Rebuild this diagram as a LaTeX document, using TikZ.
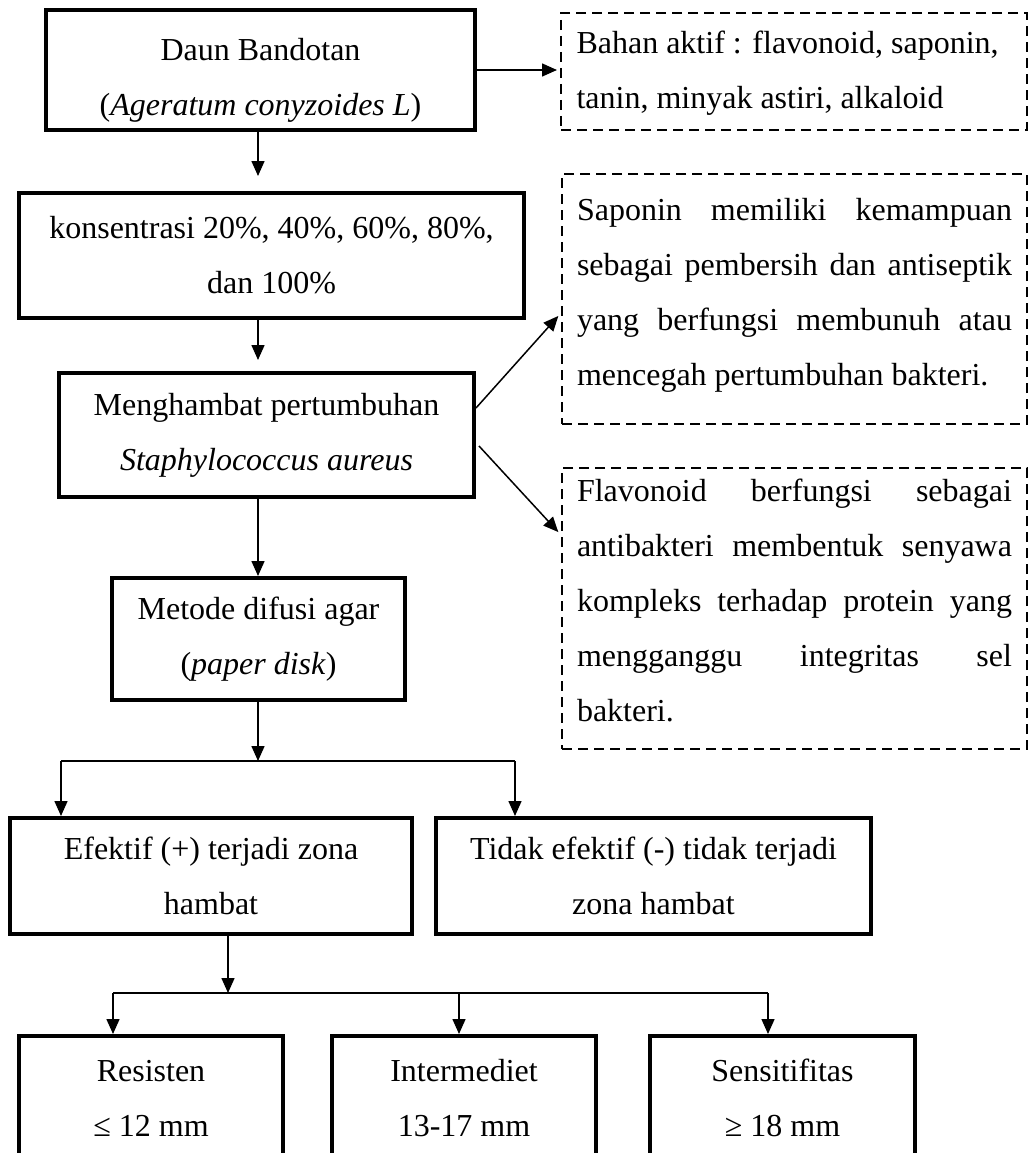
\documentclass[tikz,border=0pt]{standalone}
\usepackage{fontspec}
\setmainfont{Liberation Serif}
\usetikzlibrary{arrows.meta,calc}
\newcommand\myfs{\fontsize{32pt}{55pt}\selectfont}
\newcommand\jline[1]{\makebox[435pt][s]{#1}}
\newcommand\lline[1]{\makebox[435pt][l]{#1}}
\begin{document}
\begin{tikzpicture}[x=1pt,y=-1pt,
  box/.style={draw, line width=4pt, inner sep=0pt, align=center, font=\myfs},
  dbox/.style={draw, dash pattern=on 10pt off 6pt, line width=2pt, inner sep=0pt},
  txt/.style={inner sep=0pt, align=left, font=\myfs},
  arr/.style={line width=1.5pt, -{Triangle[length=15pt,width=13pt]}},
  ln/.style={line width=1.5pt}]
\useasboundingbox (0,0) rectangle (1032,1153);
\clip (0,0) rectangle (1032,1153);
% solid boxes
\node[box, minimum width=429pt, minimum height=120pt] (b1) at (260.5,70) {};
\node[txt, align=center] (b1t) at ($(b1.center)+(0,10)$) {Daun Bandotan\\(\textit{Ageratum conyzoides L})};
\node[box, minimum width=505pt, minimum height=125pt] (b2) at (271.5,255.5) {konsentrasi 20\%, 40\%, 60\%, 80\%,\\dan 100\%};
\node[box, minimum width=415pt, minimum height=124pt] (b3) at (266.5,435) {Menghambat pertumbuhan\\\textit{Staphylococcus aureus}};
\node[box, minimum width=293pt, minimum height=122pt] (b4) at (258.5,639) {Metode difusi agar\\(\textit{paper disk})};
\node[box, minimum width=402pt, minimum height=116pt] (b5) at (211,876) {Efektif (+) terjadi zona\\hambat};
\node[box, minimum width=435pt, minimum height=116pt] (b6) at (653.5,876) {Tidak efektif (-) tidak terjadi\\zona hambat};
\node[box, minimum width=264pt, minimum height=124pt] (r1) at (151,1098) {Resisten\\≤ 12 mm};
\node[box, minimum width=264pt, minimum height=124pt] (r2) at (464,1098) {Intermediet\\13-17 mm};
\node[box, minimum width=265pt, minimum height=124pt] (r3) at (782.5,1098) {Sensitifitas\\≥ 18 mm};
% dashed boxes
\node[dbox, minimum width=466pt, minimum height=117pt] (dA) at (794,71.5) {};
\node[txt] (dAt) at ($(dA.center)+(0,2)$) {\lline{Bahan aktif : flavonoid, saponin,}\\\lline{tanin, minyak astiri, alkaloid}};
\node[dbox, minimum width=465pt, minimum height=250pt] (dB) at (794.5,299) {};
\node[txt] (dBt) at ($(dB.center)+(0,-4)$) {\jline{Saponin memiliki kemampuan}\\\jline{sebagai pembersih dan antiseptik}\\\jline{yang berfungsi membunuh atau}\\\lline{mencegah pertumbuhan bakteri.}};
\node[dbox, minimum width=465pt, minimum height=281pt] (dC) at (794.5,608.5) {};
\node[txt] (dCt) at ($(dC.center)+(0,-8)$) {\jline{Flavonoid berfungsi sebagai}\\\jline{antibakteri membentuk senyawa}\\\jline{kompleks terhadap protein yang}\\\jline{mengganggu integritas sel}\\\lline{bakteri.}};
% connectors
\draw[arr, shorten >=3pt] (b1.east) -- (b1.east -| dA.west);
\draw[arr, shorten >=15pt] (b1.south -| 258,0) -- (b2.north -| 258,0);
\draw[arr, shorten >=11pt] (b2.south -| 258,0) -- (b3.north -| 258,0);
\draw[arr] (b3.south -| 258,0) -- (b4.north -| 258,0);
\draw[arr, shorten >=4pt] ($(b3.east)+(0,-27)$) -- ($(dB.west)+(0,14)$);
\draw[arr, shorten >=4pt] ($(b3.east)+(3,11)$) -- ($(dC.west)+(0,-73.5)$);
\coordinate (s1) at (258,761);
\coordinate (s1l) at (61,761);
\coordinate (s1r) at (515,761);
\draw[arr] (b4.south -| s1) -- (s1);
\draw[ln] (s1l) -- (s1r);
\draw[arr] (s1l) -- (s1l |- b5.north);
\draw[arr] (s1r) -- (s1r |- b6.north);
\coordinate (s2) at (228,993);
\coordinate (s2l) at (113,993);
\coordinate (s2m) at (459,993);
\coordinate (s2r) at (768,993);
\draw[arr] (b5.south -| s2) -- (s2);
\draw[ln] (s2l) -- (s2r);
\draw[arr] (s2l) -- (s2l |- r1.north);
\draw[arr] (s2m) -- (s2m |- r2.north);
\draw[arr] (s2r) -- (s2r |- r3.north);
\end{tikzpicture}
\end{document}
